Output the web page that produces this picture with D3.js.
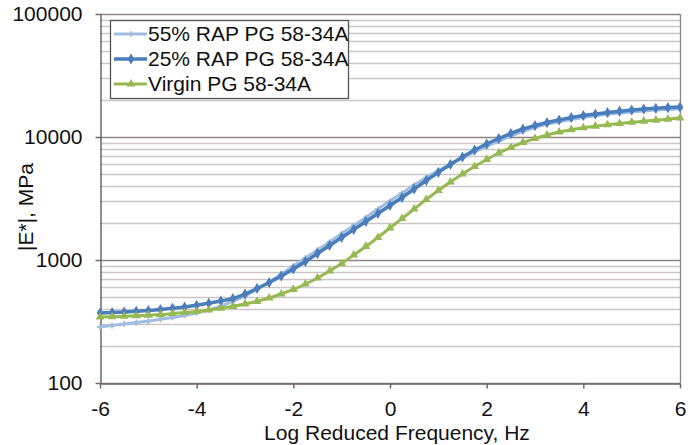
<!DOCTYPE html>
<html>
<head>
<meta charset="utf-8">
<script src="https://cdn.jsdelivr.net/npm/d3@7/dist/d3.min.js"></script>
<style>
	body { margin: 0; background: #fff; }
	svg text { font-family: "Liberation Sans", Arial, sans-serif; fill: #111; }
</style>
</head>
<body>
<div id="chart"></div>
<script>
	//Log reduced frequency (Hz) of every point
	var freq = [-6, -5.75, -5.5, -5.25, -5, -4.75, -4.5, -4.25, -4, -3.75, -3.5, -3.25, -3,
		-2.75, -2.5, -2.25, -2, -1.75, -1.5, -1.25, -1, -0.75, -0.5, -0.25, 0,
		0.25, 0.5, 0.75, 1, 1.25, 1.5, 1.75, 2, 2.25, 2.5, 2.75, 3,
		3.25, 3.5, 3.75, 4, 4.25, 4.5, 4.75, 5, 5.25, 5.5, 5.75, 6];

	//|E*| in MPa
	var rap55 = [285, 293, 302, 310, 319, 330, 341, 354, 371, 392, 423, 460, 510,
		576, 662, 769, 894, 1038, 1206, 1401, 1642, 1907, 2216, 2598, 3018,
		3505, 4072, 4685, 5341, 6032, 6750, 7551, 8372, 9278, 10188, 11084, 11944,
		12685, 13317, 13903, 14403, 14873, 15296, 15672, 16000, 16301, 16546, 16765, 16955];
	var rap25 = [371, 374, 378, 383, 388, 396, 405, 415, 428, 445, 464, 486, 529,
		587, 656, 741, 845, 972, 1129, 1312, 1524, 1770, 2056, 2388, 2774,
		3222, 3777, 4429, 5145, 5975, 6877, 7838, 8773, 9723, 10678, 11614, 12400,
		13120, 13747, 14403, 14955, 15381, 15820, 16210, 16577, 16889, 17112, 17339, 17534];
	var virgin = [344, 346, 349, 352, 356, 360, 367, 374, 382, 392, 405, 420, 439,
		461, 491, 529, 576, 638, 714, 814, 936, 1098, 1288, 1524, 1821,
		2175, 2598, 3103, 3673, 4306, 5003, 5757, 6563, 7411, 8215, 9022, 9723,
		10382, 10983, 11462, 11879, 12240, 12564, 12876, 13167, 13443, 13696, 13979, 14272];

	var seriesNames = ["55% RAP PG 58-34A", "25% RAP PG 58-34A", "Virgin PG 58-34A"];
	var xTicks = [-6, -4, -2, 0, 2, 4, 6];
	var yTicks = [100, 1000, 10000, 100000];

	//Width and height
	var w = 699;
	var h = 445;
	var plotL = 100, plotR = 680, plotT = 14, plotB = 383;

	var series = [
		{ name: seriesNames[0], values: rap55, color: "#a3bde2", width: 3, symbol: d3.symbolCross, size: 18 },
		{ name: seriesNames[1], values: rap25, color: "#4a7ebb", width: 3.5, symbol: d3.symbolDiamond, size: 36 },
		{ name: seriesNames[2], values: virgin, color: "#96b953", width: 3, symbol: d3.symbolTriangle, size: 34 }
	];

	//Define scales
	var xScale = d3.scaleLinear().domain([-6, 6]).range([plotL, plotR]);
	var yScale = d3.scaleLog().domain([100, 100000]).range([plotB, plotT]);

	var svg = d3.select("#chart")
		.append("svg")
		.attr("width", w)
		.attr("height", h);

	//Minor gridlines (2..9 in every decade)
	var minor = [];
	yTicks.slice(0, 3).forEach(function (d) {
		for (var k = 2; k <= 9; k++) minor.push(d * k);
	});
	svg.append("g").selectAll("line")
		.data(minor)
		.enter()
		.append("line")
		.attr("x1", plotL).attr("x2", plotR)
		.attr("y1", function (d) { return Math.round(yScale(d)) + 0.5; })
		.attr("y2", function (d) { return Math.round(yScale(d)) + 0.5; })
		.attr("stroke", "#ccc6c6")
		.attr("stroke-width", 1.3);

	//Major gridlines
	svg.append("g").selectAll("line")
		.data(yTicks)
		.enter()
		.append("line")
		.attr("x1", plotL).attr("x2", plotR)
		.attr("y1", function (d) { return Math.round(yScale(d)) + 0.5; })
		.attr("y2", function (d) { return Math.round(yScale(d)) + 0.5; })
		.attr("stroke", "#8c8585")
		.attr("stroke-width", 1.3);

	//Right border
	svg.append("line")
		.attr("x1", plotR + 0.5).attr("x2", plotR + 0.5)
		.attr("y1", plotT).attr("y2", plotB)
		.attr("stroke", "#8c8585")
		.attr("stroke-width", 1.3);

	//Axes (plain hyphen for minus, like the original)
	var fmt = function (d) { return String(d); };
	var yAxis = svg.append("g")
		.attr("transform", "translate(" + (plotL + 0.5) + ",0)")
		.call(d3.axisLeft(yScale).tickValues(yTicks).tickFormat(fmt)
			.tickSize(5).tickSizeOuter(0).tickPadding(13));
	var xAxis = svg.append("g")
		.attr("transform", "translate(0," + (plotB + 0.5) + ")")
		.call(d3.axisBottom(xScale).tickValues(xTicks).tickFormat(fmt)
			.tickSize(5).tickSizeOuter(0).tickPadding(13));
	[yAxis, xAxis].forEach(function (a) {
		a.select(".domain").attr("stroke", "#6f6868").attr("stroke-width", 1.5);
		a.selectAll(".tick line").attr("stroke", "#6f6868").attr("stroke-width", 1.5);
		a.selectAll(".tick text").attr("font-size", "21px").attr("font-family", null).attr("fill", "#111");
	});

	//Lines and markers
	var line = d3.line()
		.x(function (d, i) { return xScale(freq[i]); })
		.y(function (d) { return yScale(d); })
		.curve(d3.curveMonotoneX);

	series.forEach(function (s) {
		var g = svg.append("g");
		g.append("path")
			.attr("d", line(s.values))
			.attr("fill", "none")
			.attr("stroke", s.color)
			.attr("stroke-width", s.width);
		g.selectAll("path.m")
			.data(s.values)
			.enter()
			.append("path")
			.attr("class", "m")
			.attr("d", d3.symbol().type(s.symbol).size(s.size))
			.attr("transform", function (d, i) {
				return "translate(" + xScale(freq[i]) + "," + yScale(d) + ")";
			})
			.attr("fill", s.color);
	});

	//Legend
	var legend = svg.append("g");
	legend.append("rect")
		.attr("x", 110.5).attr("y", 20.5)
		.attr("width", 238).attr("height", 78)
		.attr("fill", "#fff")
		.attr("stroke", "#555")
		.attr("stroke-width", 1.3);
	var rowY = [34, 59, 84];
	series.forEach(function (s, i) {
		legend.append("line")
			.attr("x1", 114).attr("x2", 147)
			.attr("y1", rowY[i]).attr("y2", rowY[i])
			.attr("stroke", s.color)
			.attr("stroke-width", s.width);
		legend.append("path")
			.attr("d", d3.symbol().type(s.symbol).size(s.size))
			.attr("transform", "translate(131," + rowY[i] + ")")
			.attr("fill", s.color);
		legend.append("text")
			.attr("x", 148)
			.attr("y", rowY[i])
			.attr("dy", "0.35em")
			.attr("font-size", "21px")
			.text(s.name);
	});

	//Axis titles
	svg.append("text")
		.attr("text-anchor", "middle")
		.attr("x", 397)
		.attr("y", 440)
		.attr("font-size", "21px")
		.text("Log Reduced Frequency, Hz");

	svg.append("text")
		.attr("text-anchor", "middle")
		.attr("transform", "translate(33,207)rotate(-90)")
		.attr("font-size", "21px")
		.text("|E*|, MPa");
</script>
</body>
</html>
